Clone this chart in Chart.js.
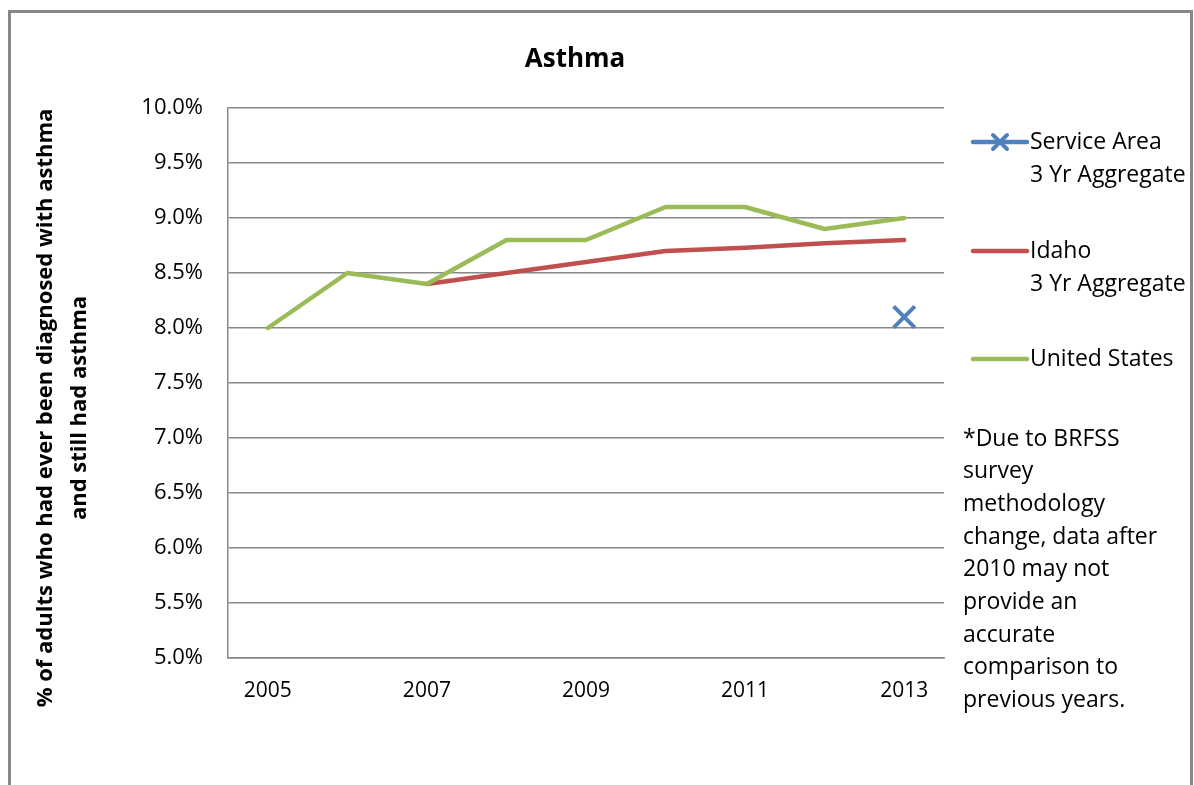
<!DOCTYPE html>
<html>
<head>
<meta charset="utf-8">
<title>Asthma</title>
<script src="https://cdn.jsdelivr.net/npm/chart.js@4.4.0/dist/chart.umd.min.js"></script>
<style>
    html, body { margin: 0; padding: 0; background: #fff; }
    #wrap { position: relative; width: 1194px; height: 785px; }
</style>
</head>
<body>
<div id="wrap"><canvas id="asthma_chart" width="1194" height="785"></canvas></div>
<script>
// data
var years = ['2005', '2006', '2007', '2008', '2009', '2010', '2011', '2012', '2013'];
var service_area = [null, null, null, null, null, null, null, null, 8.1];
var idaho = [null, null, 8.4, 8.5, 8.6, 8.7, 8.73, 8.77, 8.8];
var united_states = [8.0, 8.5, 8.4, 8.8, 8.8, 9.1, 9.1, 8.9, 9.0];

var y_min = 5.0;
var y_max = 10.0;
var y_step = 0.5;

var chart_title = 'Asthma';
var axis_title = ['% of adults who had ever been diagnosed with asthma', 'and still had asthma'];
var legend_labels = [['Service Area', '3 Yr Aggregate'], ['Idaho', '3 Yr Aggregate'], ['United States']];
var note_lines = ['*Due to BRFSS', 'survey', 'methodology', 'change, data after', '2010 may not',
    'provide an', 'accurate', 'comparison to', 'previous years.'];

var blue = '#4F81BD';
var red = '#C0504D';
var green = '#9BBB59';
var font_name = '"Open Sans", "Liberation Sans", sans-serif';

function draw_cross(ctx, x, y, r, color){
    ctx.save();
    ctx.strokeStyle = color;
    ctx.lineWidth = 4;
    ctx.beginPath();
    ctx.moveTo(x - r, y - r); ctx.lineTo(x + r, y + r);
    ctx.moveTo(x - r, y + r); ctx.lineTo(x + r, y - r);
    ctx.stroke();
    ctx.restore();
}

// frame, title, axis title, legend and footnote
var decor_plugin = {
    id: 'decor',
    beforeDraw: function(chart){
        var ctx = chart.ctx;
        ctx.save();
        ctx.strokeStyle = '#888';
        ctx.lineWidth = 3;
        ctx.beginPath();
        ctx.moveTo(9.5, 800);
        ctx.lineTo(9.5, 11.5);
        ctx.lineTo(1191.5, 11.5);
        ctx.lineTo(1191.5, 800);
        ctx.stroke();
        ctx.restore();
    },
    afterDraw: function(chart){
        var ctx = chart.ctx;
        ctx.save();
        ctx.fillStyle = '#000';
        ctx.textBaseline = 'middle';

        ctx.font = 'bold 26px ' + font_name;
        ctx.textAlign = 'center';
        ctx.fillText(chart_title, 575, 60);

        // y axis title, rotated
        ctx.save();
        ctx.font = 'bold 22px ' + font_name;
        ctx.translate(46, 408);
        ctx.rotate(-Math.PI / 2);
        ctx.fillText(axis_title[0], 0, 0);
        ctx.fillText(axis_title[1], 0, 34);
        ctx.restore();

        // legend
        var leg_y = [142, 251, 359];
        var leg_colors = [blue, red, green];
        ctx.font = '23px ' + font_name;
        ctx.textAlign = 'left';
        for (var i = 0; i < legend_labels.length; i++) {
            ctx.strokeStyle = leg_colors[i];
            ctx.lineWidth = 4.5;
            ctx.lineCap = 'round';
            ctx.beginPath();
            ctx.moveTo(973, leg_y[i]);
            ctx.lineTo(1027, leg_y[i]);
            ctx.stroke();
            if (i === 0) draw_cross(ctx, 1000, leg_y[i], 7, blue);
            for (var j = 0; j < legend_labels[i].length; j++) {
                ctx.fillText(legend_labels[i][j], 1030, leg_y[i] + j * 33);
            }
        }

        // footnote
        for (var k = 0; k < note_lines.length; k++) {
            ctx.fillText(note_lines[k], 963, 439 + k * 32.7);
        }
        ctx.restore();
    }
};

var ctx = document.getElementById('asthma_chart');

var asthma_chart = new Chart(ctx, {
    type: 'line',
    data: {
        labels: years,
        datasets: [
            {
                label: 'Service Area 3 Yr Aggregate',
                data: service_area,
                borderColor: blue,
                backgroundColor: blue,
                showLine: false,
                pointStyle: 'crossRot',
                pointRadius: 15,
                pointBorderWidth: 4,
                order: 0
            },
            {
                label: 'Idaho 3 Yr Aggregate',
                data: idaho,
                borderColor: red,
                borderWidth: 4.5,
                borderCapStyle: 'round',
                borderJoinStyle: 'round',
                pointRadius: 0,
                tension: 0,
                order: 2
            },
            {
                label: 'United States',
                data: united_states,
                borderColor: green,
                borderWidth: 4.5,
                borderCapStyle: 'round',
                borderJoinStyle: 'round',
                pointRadius: 0,
                tension: 0,
                order: 1
            }
        ]
    },
    options: {
        responsive: false,
        animation: false,
        layout: { padding: { top: 108, right: 250, left: 0, bottom: 0 } },
        plugins: {
            legend: { display: false },
            title: { display: false },
            tooltip: { enabled: false }
        },
        scales: {
            x: {
                offset: true,
                grid: { display: false, drawTicks: false },
                border: { display: true, color: '#888', width: 1.5 },
                ticks: {
                    autoSkip: false,
                    maxRotation: 0,
                    padding: 20,
                    color: '#000',
                    font: { family: font_name, size: 21 },
                    callback: function(val, i){ return i % 2 === 0 ? years[i] : ''; }
                },
                afterFit: function(scale){ scale.height = 127; }
            },
            y: {
                min: y_min,
                max: y_max,
                grid: { color: '#888', lineWidth: 1.5, drawTicks: false },
                border: { display: true, color: '#888', width: 1.5 },
                ticks: {
                    stepSize: y_step,
                    padding: 25,
                    color: '#000',
                    font: { family: font_name, size: 22 },
                    callback: function(v){ return v.toFixed(1) + '%'; }
                },
                afterFit: function(scale){ scale.width = 228; }
            }
        }
    },
    plugins: [decor_plugin]
});
</script>
</body>
</html>
